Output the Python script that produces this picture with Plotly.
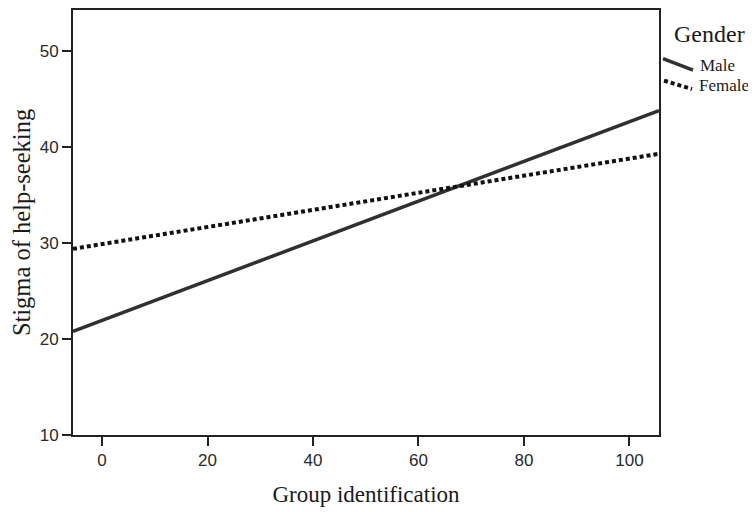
import plotly.graph_objects as go

# Data
x_ends = [-5.5, 105.6]
male = [20.8, 43.8]
female = [29.4, 39.3]
x_ticks = [0, 20, 40, 60, 80, 100]
y_ticks = [10, 20, 30, 40, 50]
series_names = ["Male", "Female"]
legend_title = "Gender"

# page body has an 8px margin, so the figure is sized/offset to compensate
OFF = 8
W, H = 756 - OFF, 512 - OFF
L, R, T, B = 72.7 - OFF, 659.0 - OFF, 0.0, 435.3 - OFF
Y_TOP = 10 + (B - T) / 9.65

def px(x):
    return (x - OFF - L) / (R - L)

def py(y):
    return (B - (y - OFF)) / (B - T)

fig = go.Figure()
fig.add_trace(go.Scatter(x=x_ends, y=male, mode="lines", name=series_names[0],
                         line=dict(color="#303030", width=3.5), showlegend=False))
fig.add_trace(go.Scatter(x=x_ends, y=female, mode="lines", name=series_names[1],
                         line=dict(color="#111111", width=4, dash="4px,3px"), showlegend=False))

serif = "Liberation Serif, Times New Roman, serif"
sans = "Liberation Sans, Arial, sans-serif"

fig.update_layout(
    width=W, height=H,
    margin=dict(l=L, r=W - R, t=T, b=H - B, pad=0),
    paper_bgcolor="white", plot_bgcolor="white",
    xaxis=dict(range=[-5.5, 105.6], tickvals=x_ticks, ticks="outside", ticklen=9,
               tickwidth=2, tickcolor="#222", showgrid=False, zeroline=False,
               showline=True, linecolor="#222", linewidth=2, mirror=True,
               tickfont=dict(family=sans, size=17, color="#2a2a2a"),
               title=dict(text="Group identification", font=dict(family=serif, size=23, color="#1a1a1a"),
                          standoff=16)),
    yaxis=dict(range=[10, Y_TOP], tickvals=y_ticks, ticks="outside", ticklen=9,
               tickwidth=2, tickcolor="#222", showgrid=False, zeroline=False,
               showline=True, linecolor="#222", linewidth=2, mirror=True,
               tickfont=dict(family=sans, size=17, color="#2a2a2a"),
               title=dict(text="Stigma of help-seeking", font=dict(family=serif, size=24.5, color="#1a1a1a"),
                          standoff=4)),
)

# Manual legend (slanted samples like the reference)
fig.add_shape(type="line", xref="paper", yref="paper",
              x0=px(663), y0=py(57), x1=px(693), y1=py(68.5),
              line=dict(color="#303030", width=3.5))
fig.add_shape(type="line", xref="paper", yref="paper",
              x0=px(664), y0=py(79), x1=px(692), y1=py(87.5),
              line=dict(color="#111111", width=4, dash="4px,3px"))
fig.add_annotation(xref="paper", yref="paper", x=px(672), y=py(32), text=legend_title,
                   showarrow=False, xanchor="left", yanchor="middle",
                   font=dict(family=serif, size=24, color="#1a1a1a"))
fig.add_annotation(xref="paper", yref="paper", x=px(698), y=py(64), text=series_names[0],
                   showarrow=False, xanchor="left", yanchor="middle",
                   font=dict(family=serif, size=17, color="#1a1a1a"))
fig.add_annotation(xref="paper", yref="paper", x=px(697), y=py(84), text=series_names[1],
                   showarrow=False, xanchor="left", yanchor="middle",
                   font=dict(family=serif, size=17, color="#1a1a1a"))

fig.write_html("out.html")
